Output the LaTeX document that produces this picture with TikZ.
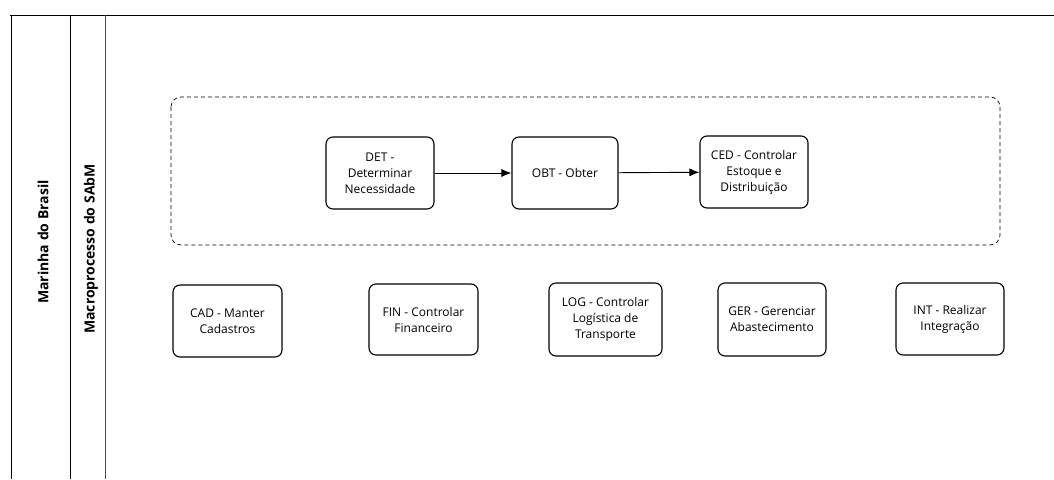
\documentclass[tikz,border=0pt]{standalone}
\usepackage{fontspec}
\setmainfont{Open Sans}
\usetikzlibrary{arrows.meta}
\begin{document}
\begin{tikzpicture}[x=1pt,y=-1pt,
  proc/.style={draw=black,line width=1.1pt,rounded corners=7pt,align=center,
    font=\fontsize{12}{16}\selectfont,inner sep=0pt},
  lane/.style={font=\bfseries\fontsize{14}{16}\selectfont,rotate=90},
  flow/.style={-{Latex[length=10pt,width=8pt]},line width=0.9pt}]
\useasboundingbox (0,0) rectangle (1054,479);
% pool lines
\draw[line width=1pt] (10,15) -- (1054,15);
\draw[line width=1pt] (11,15) -- (11,479);
\draw[line width=1pt] (70,15) -- (70,479);
\draw[line width=0.7pt,black!70] (105,15) -- (105,479);
\node[lane] (mb) at (43,242) {Marinha do Brasil};
\node[lane] (ms) at (91,249) {Macroprocesso do SAbM};
% dashed group
\draw[dashed,line width=0.7pt,rounded corners=10pt,dash pattern=on 4pt off 3pt] (171,97) rectangle (1000,245);
% top flow
\node[proc,minimum width=108pt,minimum height=72pt] (det) at (380,173) {DET -\\Determinar\\Necessidade};
\node[proc,minimum width=106pt,minimum height=72pt] (obt) at (565,173) {OBT - Obter};
\node[proc,minimum width=108pt,minimum height=72pt] (ced) at (754,172) {CED - Controlar\\Estoque e\\Distribuição};
\draw[flow] (det) -- (obt);
\draw[flow] (obt) -- (ced);
% bottom processes
\node[proc,minimum width=109pt,minimum height=72pt] (cad) at (227.5,321) {CAD - Manter\\Cadastros};
\node[proc,minimum width=109pt,minimum height=71pt] (fin) at (423.5,319.5) {FIN - Controlar\\Financeiro};
\node[proc,minimum width=113pt,minimum height=73pt] (log) at (605.5,319.5) {LOG - Controlar\\Logística de\\Transporte};
\node[proc,minimum width=108pt,minimum height=73pt] (ger) at (772,319.5) {GER - Gerenciar\\Abastecimento};
\node[proc,minimum width=108pt,minimum height=72pt] (int) at (950,319) {INT - Realizar\\Integração};
\end{tikzpicture}
\end{document}
